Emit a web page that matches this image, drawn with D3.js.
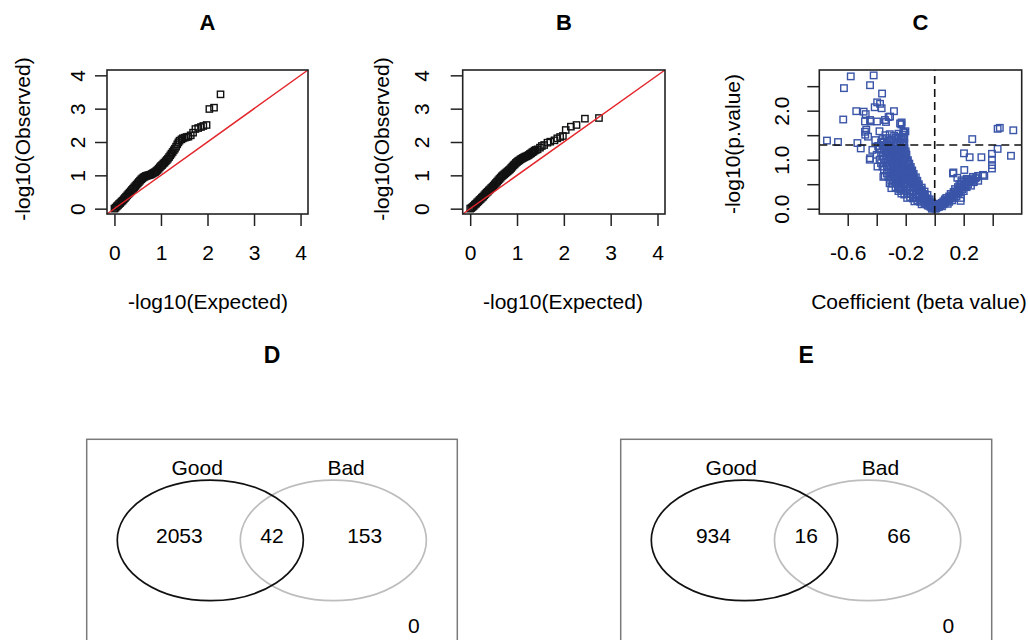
<!DOCTYPE html>
<html>
<head>
<meta charset="utf-8">
<script src="https://cdn.jsdelivr.net/npm/d3@7"></script>
<style>
  body { margin: 0; background: #fff; }
  text { font-family: "Liberation Sans", Arial, Helvetica, sans-serif; fill: #000; }
</style>
</head>
<body>
<div id="chart"></div>
<script>
// ---- data ----

// panel A: QQ plot, -log10(expected) vs -log10(observed)
var qqA_expected = [0, 0.025, 0.05, 0.075, 0.1, 0.125, 0.15, 0.175, 0.2, 0.225, 0.25, 0.275, 0.3, 0.325, 0.35, 0.375,
  0.4, 0.425, 0.45, 0.475, 0.5, 0.525, 0.55, 0.575, 0.6, 0.625, 0.65, 0.675, 0.7, 0.725, 0.75, 0.775, 0.8, 0.825,
  0.85, 0.875, 0.9, 0.925, 0.95, 0.975, 1.0, 1.025, 1.05, 1.075, 1.1, 1.125, 1.15, 1.175, 1.2, 1.225, 1.25, 1.275,
  1.3, 1.325, 1.35, 1.375, 1.4, 1.44, 1.47, 1.51, 1.55, 1.59, 1.64, 1.69, 1.74, 1.80, 1.86, 1.91, 1.98, 2.04, 2.14, 2.28];
var qqA_observed = [0, 0.03, 0.07, 0.10, 0.14, 0.17, 0.21, 0.24, 0.28, 0.32, 0.36, 0.40, 0.44, 0.48, 0.52, 0.56,
  0.60, 0.64, 0.68, 0.72, 0.76, 0.80, 0.84, 0.88, 0.91, 0.94, 0.96, 0.98, 0.99, 1.00, 1.01, 1.02, 1.04, 1.06,
  1.08, 1.10, 1.13, 1.16, 1.20, 1.24, 1.28, 1.31, 1.35, 1.38, 1.42, 1.46, 1.50, 1.55, 1.60, 1.65, 1.70, 1.75,
  1.80, 1.86, 1.93, 1.99, 2.04, 2.08, 2.11, 2.13, 2.15, 2.16, 2.20, 2.28, 2.39, 2.42, 2.45, 2.48, 2.51, 2.99, 3.03, 3.43];

// panel B: QQ plot
var qqB_expected = [0, 0.025, 0.05, 0.075, 0.1, 0.125, 0.15, 0.175, 0.2, 0.225, 0.25, 0.275, 0.3, 0.325, 0.35, 0.375,
  0.4, 0.425, 0.45, 0.475, 0.5, 0.525, 0.55, 0.575, 0.6, 0.625, 0.65, 0.675, 0.7, 0.725, 0.75, 0.775, 0.8, 0.825,
  0.85, 0.875, 0.9, 0.925, 0.95, 0.975, 1.0, 1.025, 1.05, 1.075, 1.1, 1.125, 1.15, 1.175, 1.2, 1.225, 1.25, 1.275,
  1.3, 1.325, 1.35, 1.375, 1.4, 1.44, 1.49, 1.53, 1.58, 1.65, 1.71, 1.80, 1.86, 1.92, 1.98, 2.04, 2.15, 2.27, 2.45, 2.75];
var qqB_observed = [0, 0.02, 0.05, 0.08, 0.12, 0.15, 0.19, 0.22, 0.26, 0.29, 0.33, 0.36, 0.40, 0.44, 0.48, 0.51,
  0.55, 0.58, 0.62, 0.65, 0.69, 0.73, 0.77, 0.81, 0.85, 0.89, 0.93, 0.97, 1.00, 1.03, 1.06, 1.09, 1.12, 1.15,
  1.18, 1.22, 1.26, 1.30, 1.33, 1.37, 1.40, 1.43, 1.45, 1.48, 1.50, 1.52, 1.54, 1.56, 1.57, 1.59, 1.61, 1.64,
  1.66, 1.69, 1.71, 1.74, 1.76, 1.78, 1.83, 1.88, 1.91, 1.98, 2.01, 2.05, 2.11, 2.15, 2.18, 2.36, 2.46, 2.51, 2.70, 2.72];

// panel C: volcano plot, [beta, -log10(p)]
var volcanoPoints = [
  // dense wedge, negative betas
  [0.01,0.01],[-0.01,0.03],[-0.03,0.04],[0.02,0.05],[-0.02,0.0],[0.0,0.06],[-0.005,0.01],[-0.015,0.02],[0.005,0.0],
  [-0.05,0.08],[-0.07,0.10],[-0.09,0.09],[-0.03,0.11],[0.01,0.09],[0.03,0.08],[-0.025,0.05],[-0.045,0.06],
  [-0.14,0.15],[-0.12,0.17],[-0.10,0.14],[-0.08,0.16],[-0.06,0.18],[-0.04,0.15],[-0.02,0.13],[-0.065,0.12],
  [-0.19,0.22],[-0.17,0.24],[-0.15,0.21],[-0.13,0.23],[-0.11,0.25],[-0.09,0.22],[-0.07,0.24],[-0.05,0.21],[-0.035,0.19],
  [-0.23,0.31],[-0.21,0.29],[-0.19,0.32],[-0.17,0.30],[-0.15,0.33],[-0.13,0.29],[-0.11,0.31],[-0.09,0.33],[-0.07,0.30],[-0.05,0.28],
  [-0.25,0.36],[-0.23,0.39],[-0.21,0.37],[-0.19,0.40],[-0.17,0.36],[-0.15,0.38],[-0.13,0.41],[-0.11,0.37],[-0.09,0.39],[-0.07,0.35],
  [-0.27,0.44],[-0.25,0.46],[-0.23,0.43],[-0.21,0.47],[-0.19,0.45],[-0.17,0.43],[-0.15,0.46],[-0.13,0.44],[-0.11,0.47],[-0.09,0.43],
  [-0.29,0.51],[-0.27,0.53],[-0.25,0.50],[-0.23,0.54],[-0.21,0.52],[-0.19,0.50],[-0.17,0.53],[-0.15,0.51],[-0.13,0.54],[-0.11,0.50],
  [-0.30,0.58],[-0.28,0.60],[-0.26,0.57],[-0.24,0.61],[-0.22,0.59],[-0.20,0.57],[-0.18,0.60],[-0.16,0.58],[-0.14,0.61],[-0.12,0.57],
  [-0.32,0.65],[-0.29,0.67],[-0.27,0.64],[-0.25,0.68],[-0.23,0.66],[-0.21,0.64],[-0.19,0.67],[-0.17,0.65],[-0.15,0.68],[-0.13,0.64],
  [-0.33,0.72],[-0.30,0.74],[-0.28,0.71],[-0.26,0.75],[-0.24,0.73],[-0.22,0.71],[-0.20,0.74],[-0.18,0.72],[-0.16,0.75],[-0.145,0.71],
  [-0.35,0.79],[-0.32,0.81],[-0.29,0.78],[-0.27,0.82],[-0.25,0.80],[-0.23,0.78],[-0.21,0.81],[-0.19,0.79],[-0.17,0.82],[-0.155,0.78],
  [-0.36,0.86],[-0.33,0.88],[-0.30,0.85],[-0.28,0.89],[-0.26,0.87],[-0.24,0.85],[-0.22,0.88],[-0.20,0.86],[-0.18,0.89],[-0.165,0.85],
  [-0.37,0.93],[-0.34,0.95],[-0.31,0.92],[-0.29,0.96],[-0.27,0.94],[-0.25,0.92],[-0.23,0.95],[-0.21,0.93],[-0.19,0.96],[-0.175,0.92],
  [-0.38,1.00],[-0.35,1.02],[-0.32,0.99],[-0.30,1.03],[-0.28,1.01],[-0.26,0.99],[-0.24,1.02],[-0.22,1.00],[-0.20,1.03],[-0.185,0.99],
  [-0.36,1.07],[-0.33,1.09],[-0.31,1.06],[-0.29,1.10],[-0.27,1.08],[-0.25,1.06],[-0.23,1.09],[-0.21,1.07],[-0.195,1.10],
  [-0.37,1.14],[-0.34,1.16],[-0.32,1.13],[-0.30,1.17],[-0.28,1.15],[-0.26,1.13],[-0.24,1.16],[-0.22,1.14],[-0.20,1.17],
  [-0.38,1.21],[-0.35,1.23],[-0.33,1.20],[-0.31,1.24],[-0.29,1.22],[-0.27,1.20],[-0.25,1.23],[-0.23,1.21],[-0.21,1.24],
  [-0.39,1.28],[-0.36,1.30],[-0.34,1.27],[-0.32,1.31],[-0.30,1.29],[-0.28,1.27],[-0.26,1.30],[-0.24,1.28],[-0.22,1.31],
  [-0.37,1.35],[-0.35,1.37],[-0.33,1.34],[-0.31,1.38],[-0.28,1.36],[-0.26,1.34],[-0.24,1.37],[-0.22,1.35],
  [-0.36,1.42],[-0.33,1.44],[-0.30,1.41],[-0.27,1.45],[-0.25,1.43],[-0.23,1.41],[-0.21,1.44],
  [-0.34,1.50],[-0.31,1.52],[-0.28,1.49],[-0.25,1.53],[-0.22,1.51],
  [-0.02,0.06],[-0.04,0.12],[-0.06,0.20],[-0.08,0.27],[-0.10,0.36],[-0.12,0.45],[-0.14,0.54],[-0.16,0.66],
  [-0.18,0.78],[-0.19,0.90],[-0.20,1.05],[-0.21,1.18],[-0.22,1.28],[-0.215,1.45],[-0.21,1.55],
  [-0.03,0.09],[-0.05,0.16],[-0.07,0.23],[-0.09,0.30],[-0.11,0.40],[-0.13,0.50],[-0.15,0.60],[-0.17,0.72],
  [-0.18,0.84],[-0.19,0.97],[-0.20,1.12],[-0.21,1.22],[-0.21,1.35],
  // scattered negative betas
  [-0.579,2.70],[-0.421,2.72],[-0.626,2.46],[-0.446,2.52],[-0.363,2.35],[-0.397,2.17],[-0.377,2.14],[-0.414,2.07],
  [-0.366,2.05],[-0.541,1.99],[-0.490,1.98],[-0.476,1.93],[-0.281,1.99],[-0.318,1.87],[-0.631,1.82],[-0.443,1.78],
  [-0.398,1.78],[-0.336,1.77],[-0.228,1.76],[-0.23,1.72],[-0.472,1.61],[-0.381,1.58],[-0.479,1.51],[-0.460,1.47],
  [-0.202,1.58],[-0.216,1.47],[-0.253,1.46],[-0.743,1.39],[-0.667,1.36],[-0.533,1.34],[-0.510,1.23],[-0.448,1.00],
  [-0.395,0.86],[-0.345,0.67],[-0.311,0.52],[-0.299,0.42],[-0.248,0.42],[-0.481,1.78],[-0.446,1.81],[-0.343,1.81],
  [-0.308,1.88],[-0.239,1.74],[-0.481,1.57],[-0.216,1.57],[-0.446,1.03],[-0.354,0.65],[-0.239,0.40],[-0.41,1.40],
  [-0.43,1.20],[-0.40,1.10],
  // positive betas
  [0.01,0.02],[0.02,0.06],[0.03,0.04],[0.03,0.10],[0.04,0.07],[0.05,0.12],[0.05,0.05],[0.06,0.15],[0.06,0.09],
  [0.07,0.12],[0.07,0.19],[0.08,0.15],[0.08,0.22],[0.09,0.10],[0.09,0.18],[0.10,0.25],[0.10,0.14],[0.11,0.21],
  [0.11,0.30],[0.12,0.17],[0.12,0.27],[0.13,0.34],[0.13,0.22],[0.14,0.30],[0.14,0.40],[0.15,0.25],[0.15,0.35],
  [0.16,0.44],[0.16,0.30],[0.17,0.38],[0.17,0.50],[0.18,0.33],[0.18,0.45],[0.19,0.40],[0.19,0.55],[0.20,0.48],
  [0.20,0.36],[0.21,0.52],[0.22,0.44],[0.22,0.58],[0.23,0.50],[0.24,0.55],[0.25,0.47],[0.26,0.60],[0.27,0.55],
  [0.28,0.62],[0.30,0.57],
  [0.02,0.03],[0.04,0.10],[0.06,0.12],[0.08,0.18],[0.10,0.20],[0.12,0.23],[0.14,0.35],[0.16,0.38],[0.18,0.50],
  [0.21,0.45],[0.23,0.56],[0.25,0.58],
  [0.126,0.72],[0.184,0.58],[0.225,0.60],[0.264,0.65],[0.299,0.67],[0.333,0.69],[0.179,0.16],[0.202,1.13],
  [0.241,1.05],[0.322,1.05],[0.395,1.12],[0.395,1.00],[0.395,0.89],[0.395,0.82],[0.434,1.63],[0.449,1.65],
  [0.542,1.60],[0.259,1.42],[0.434,1.22],[0.526,1.08],[0.204,0.79],[0.129,0.74],[0.156,0.63],[0.220,0.61],
  [0.342,0.67],[0.288,0.64],[0.266,0.54],[0.175,0.44],[0.181,0.22]
];
var pThreshold = 0.05;

// panels D and E: Venn counts (only Good, Good & Bad, only Bad, neither)
var vennSets = ["Good", "Bad"];
var vennCountsD = [2053, 42, 153, 0];
var vennCountsE = [934, 16, 66, 0];

var qqTicks = [0, 1, 2, 3, 4];
var betaTicks = [-0.6, -0.4, -0.2, 0, 0.2, 0.4];
var betaTickLabels = ["-0.6", "", "-0.2", "", "0.2", ""];
var pTicks = [0, 0.5, 1, 1.5, 2, 2.5];
var pTickLabels = ["0.0", "", "1.0", "", "2.0", ""];

// ---- drawing ----
var svg = d3.select("#chart").append("svg")
  .attr("width", 1028)
  .attr("height", 640);

var FS = 21;
var boxTop = 70, boxBottom = 214;

function drawScatterPanel(cfg) {
  var x = d3.scaleLinear().domain(cfg.xDomain).range([cfg.left, cfg.right]);
  var y = d3.scaleLinear().domain(cfg.yDomain).range([boxBottom, boxTop]);
  var g = svg.append("g");

  // points as open squares
  var s = cfg.markSize;
  g.selectAll("rect.pt")
    .data(cfg.points)
    .enter()
    .append("rect")
    .attr("class", "pt")
    .attr("x", function (d) { return x(d[0]) - s / 2; })
    .attr("y", function (d) { return y(d[1]) - s / 2; })
    .attr("width", s)
    .attr("height", s)
    .attr("fill", "none")
    .attr("stroke", cfg.color)
    .attr("stroke-width", 1.4);

  if (cfg.after) cfg.after(g, x, y);

  // bottom axis
  var xa = g.append("g")
    .attr("transform", "translate(0," + boxBottom + ")")
    .call(d3.axisBottom(x).tickValues(cfg.xTicks).tickSize(12)
      .tickFormat(function (d, i) { return cfg.xLabels[i]; }));
  xa.select(".domain").remove();
  xa.selectAll("line").attr("stroke", "#222").attr("stroke-width", 1.5);
  xa.selectAll("text")
    .attr("y", 39)
    .attr("dy", "0.35em")
    .style("font-size", FS + "px")
    .style("font-family", null);

  // left axis, labels rotated like base R
  var ya = g.append("g")
    .attr("transform", "translate(" + cfg.left + ",0)")
    .call(d3.axisLeft(y).tickValues(cfg.yTicks).tickSize(12)
      .tickFormat(function (d, i) { return cfg.yLabels[i]; }));
  ya.select(".domain").remove();
  ya.selectAll("line").attr("stroke", "#222").attr("stroke-width", 1.5);
  ya.selectAll("text")
    .attr("x", 0)
    .attr("y", 0)
    .attr("dy", "0.35em")
    .attr("text-anchor", "middle")
    .attr("transform", "translate(" + (cfg.yLabelX - cfg.left) + ",0) rotate(-90)")
    .style("font-size", FS + "px")
    .style("font-family", null);

  // plot box
  g.append("rect")
    .attr("x", cfg.left)
    .attr("y", boxTop)
    .attr("width", cfg.right - cfg.left)
    .attr("height", boxBottom - boxTop)
    .attr("fill", "none")
    .attr("stroke", "#222")
    .attr("stroke-width", 1.6);

  // titles
  g.append("text")
    .attr("x", (cfg.left + cfg.right) / 2)
    .attr("y", 22)
    .attr("dy", "0.35em")
    .attr("text-anchor", "middle")
    .style("font-size", "22px")
    .style("font-weight", "bold")
    .text(cfg.title);

  g.append("text")
    .attr("x", cfg.xTitleX)
    .attr("y", 302)
    .attr("dy", "0.35em")
    .attr("text-anchor", "middle")
    .style("font-size", FS + "px")
    .text(cfg.xTitle);

  g.append("text")
    .attr("transform", "translate(" + cfg.yTitleX + "," + cfg.yTitleY + ") rotate(-90)")
    .attr("dy", "0.35em")
    .attr("text-anchor", "middle")
    .style("font-size", FS + "px")
    .text(cfg.yTitle);
}

function zip(a, b) { return a.map(function (v, i) { return [v, b[i]]; }); }

function identityLine(g, x, y) {
  var dom = x.domain();
  g.append("line")
    .attr("x1", x(dom[0])).attr("y1", y(dom[0]))
    .attr("x2", x(dom[1])).attr("y2", y(dom[1]))
    .attr("stroke", "#e3262b")
    .attr("stroke-width", 1.5);
}

drawScatterPanel({
  title: "A", left: 107, right: 308,
  xDomain: [-0.16, 4.16], yDomain: [-0.16, 4.16],
  points: zip(qqA_expected, qqA_observed), color: "#111", markSize: 6.3,
  xTicks: qqTicks, xLabels: qqTicks.map(String),
  yTicks: qqTicks, yLabels: qqTicks.map(String),
  yLabelX: 78, xTitle: "-log10(Expected)", xTitleX: 208,
  yTitle: "-log10(Observed)", yTitleX: 23, yTitleY: 139,
  after: identityLine
});

drawScatterPanel({
  title: "B", left: 462.7, right: 665,
  xDomain: [-0.16, 4.16], yDomain: [-0.16, 4.16],
  points: zip(qqB_expected, qqB_observed), color: "#111", markSize: 6.3,
  xTicks: qqTicks, xLabels: qqTicks.map(String),
  yTicks: qqTicks, yLabels: qqTicks.map(String),
  yLabelX: 422, xTitle: "-log10(Expected)", xTitleX: 563,
  yTitle: "-log10(Observed)", yTitleX: 382, yTitleY: 139,
  after: identityLine
});

drawScatterPanel({
  title: "C", left: 819.3, right: 1021.7,
  xDomain: [-0.796, 0.6], yDomain: [-0.108, 2.83],
  points: volcanoPoints, color: "#3a55a8", markSize: 6.5,
  xTicks: betaTicks, xLabels: betaTickLabels,
  yTicks: pTicks, yLabels: pTickLabels,
  yLabelX: 782, xTitle: "Coefficient (beta value)", xTitleX: 919,
  yTitle: "-log10(p.value)", yTitleX: 733, yTitleY: 144,
  after: function (g, x, y) {
    var xd = x.domain(), yd = y.domain(), t = -Math.log10(pThreshold);
    g.append("line")
      .attr("x1", x(xd[0])).attr("x2", x(xd[1]))
      .attr("y1", y(t)).attr("y2", y(t))
      .attr("stroke", "#111").attr("stroke-width", 1.6)
      .attr("stroke-dasharray", "8,5");
    g.append("line")
      .attr("x1", x(0)).attr("x2", x(0))
      .attr("y1", y(yd[0])).attr("y2", y(yd[1]))
      .attr("stroke", "#111").attr("stroke-width", 1.6)
      .attr("stroke-dasharray", "8,5");
  }
});

// Venn diagrams
function drawVenn(cfg) {
  var vx = d3.scaleLinear().domain([0, 1]).range([cfg.left, cfg.right]);
  var vy = d3.scaleLinear().domain([0, 1]).range([cfg.top, cfg.top + 205]);
  var g = svg.append("g");

  g.append("text")
    .attr("x", vx(0.5))
    .attr("y", 355)
    .attr("dy", "0.35em")
    .attr("text-anchor", "middle")
    .style("font-size", "23px")
    .style("font-weight", "bold")
    .text(cfg.title);

  g.append("rect")
    .attr("x", vx(0)).attr("y", vy(0))
    .attr("width", vx(1) - vx(0)).attr("height", 230)
    .attr("fill", "none")
    .attr("stroke", "#7a7a7a")
    .attr("stroke-width", 1.5);

  var circles = [
    { name: vennSets[1], cx: 0.6655, color: "#bdbdbd", label: 0.70 },
    { name: vennSets[0], cx: 0.3335, color: "#111", label: 0.298 }
  ];
  g.selectAll("ellipse")
    .data(circles)
    .enter()
    .append("ellipse")
    .attr("cx", function (d) { return vx(d.cx); })
    .attr("cy", vy(0.493))
    .attr("rx", vx(0.251) - vx(0))
    .attr("ry", vy(0.294) - vy(0))
    .attr("fill", "none")
    .attr("stroke", function (d) { return d.color; })
    .attr("stroke-width", 1.7);

  g.selectAll("text.set")
    .data(circles)
    .enter()
    .append("text")
    .attr("class", "set")
    .attr("x", function (d) { return vx(d.label); })
    .attr("y", vy(0.174))
    .attr("text-anchor", "middle")
    .style("font-size", FS + "px")
    .text(function (d) { return d.name; });

  var countPos = [
    [0.25, 0.507], [0.5, 0.507], [0.75, 0.507], [0.883, 0.943]
  ];
  g.selectAll("text.count")
    .data(cfg.counts)
    .enter()
    .append("text")
    .attr("class", "count")
    .attr("x", function (d, i) { return vx(countPos[i][0]); })
    .attr("y", function (d, i) { return vy(countPos[i][1]); })
    .attr("text-anchor", "middle")
    .style("font-size", FS + "px")
    .text(function (d) { return d; });
}

drawVenn({ title: "D", left: 86.7, right: 457.3, top: 439.3, counts: vennCountsD });
drawVenn({ title: "E", left: 620.7, right: 991.7, top: 439.3, counts: vennCountsE });
</script>
</body>
</html>
